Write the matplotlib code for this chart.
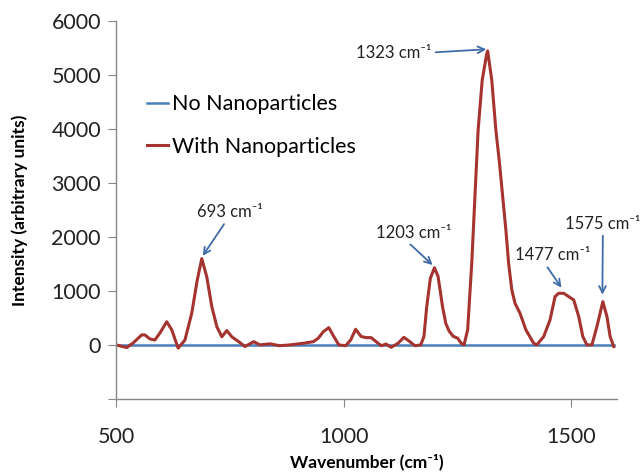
import numpy as np
import matplotlib
matplotlib.use("Agg")
import matplotlib.pyplot as plt

plt.rcParams['font.family'] = ['Lato', 'DejaVu Sans']

# spectrum
wn_with = [500, 523, 537, 556, 563, 574, 585, 596, 611, 622, 636, 651, 666, 678, 688,
           699, 710, 721, 732, 743, 754, 769, 783, 802, 816, 838, 859, 882, 911, 933,
           944, 955, 967, 978, 989, 1004, 1015, 1026, 1038, 1049, 1060, 1071, 1082,
           1093, 1104, 1119, 1132, 1145, 1156, 1169, 1176, 1182, 1190, 1199, 1207,
           1217, 1224, 1231, 1240, 1250, 1258, 1264, 1272, 1281, 1288, 1295, 1304,
           1314, 1316, 1325, 1334, 1342, 1349, 1356, 1362, 1369, 1376, 1387, 1400,
           1417, 1424, 1439, 1453, 1464, 1472, 1483, 1494, 1505, 1516, 1525, 1534,
           1545, 1556, 1569, 1578, 1585, 1593]
int_with = [0, -50, 35, 185, 185, 110, 90, 220, 430, 280, -60, 90, 590, 1200, 1600,
            1260, 710, 340, 150, 265, 150, 60, -30, 60, 0, 20, -15, 0, 30, 60,
            125, 245, 320, 155, 0, -15, 90, 290, 155, 135, 135, 60, -15,
            15, -45, 30, 140, 60, -15, 0, 155, 700, 1230, 1430, 1270,
            700, 400, 260, 160, 125, 30, 0, 278, 1512, 2747, 3982, 4908,
            5401, 5450, 4908, 3982, 3365, 2747, 2130, 1512, 1019, 772, 587, 278,
            31, 0, 154, 463, 895, 957, 957, 895, 833, 525, 154, 0,
            0, 340, 802, 525, 154, -31]

wn_none = [500, 700, 900, 1100, 1300, 1500, 1593]
int_none = [0, 0, 0, 0, 0, 0, 0]

# peak labels: (text, arrow head, text position)
peaks = [("693", (690, 1650), (750, 2460)),
         ("1203", (1195, 1480), (1154, 2080)),
         ("1323", (1313, 5480), (1110, 5420)),
         ("1477", (1478, 1060), (1458, 1660)),
         ("1575", (1568, 930), (1569, 2250))]
peak_relpos = [(0.45, 0.0), (0.4, 0.0), (1.0, 0.5), (0.4, 0.0), (0.5, 0.0)]

blue = '#4A7EBB'
red = '#A5332F'
arrow_c = '#3F6CA6'
grey = '#868686'

fig = plt.figure(figsize=(6.42, 4.72), dpi=100)
ax = fig.add_axes([0.181, 0.155, 0.78, 0.8])

ax.plot(wn_none, int_none, color=blue, lw=1.8, label='No Nanoparticles')
ax.plot(wn_with, int_with, color=red, lw=2.2, label='With Nanoparticles')

for (lab, head, txt), rp in zip(peaks, peak_relpos):
    ax.annotate(lab + ' cm\u207b\u00b9', xy=head, xytext=txt, ha='center', va='center',
                fontsize=12, color='#222222',
                arrowprops=dict(arrowstyle='->', color=arrow_c, lw=1.3,
                                shrinkA=1, shrinkB=0, relpos=rp))

ax.set_xlim(500, 1600)
ax.set_ylim(-1000, 6000)
ax.set_xticks([500, 1000, 1500])
ax.set_yticks(np.arange(-1000, 6001, 1000))
ax.set_yticklabels([''] + [str(v) for v in range(0, 6001, 1000)])

for s in ['top', 'right']:
    ax.spines[s].set_visible(False)
for s in ['left', 'bottom']:
    ax.spines[s].set_color(grey)
    ax.spines[s].set_linewidth(1.0)
ax.tick_params(axis='y', direction='out', length=6, color=grey, labelsize=15.5, pad=5,
               labelcolor='#222222')
ax.tick_params(axis='x', direction='out', length=6, color=grey, labelsize=15.5, pad=14,
               labelcolor='#222222')

ax.set_xlabel('Wavenumber (cm\u207b\u00b9)', fontsize=12.5, fontweight='bold', labelpad=5)
ax.set_ylabel('Intensity (arbitrary units)', fontsize=12.5, fontweight='bold', labelpad=17)

ax.legend(loc='upper left', bbox_to_anchor=(0.045, 0.83), frameon=False, fontsize=15.5,
          handlelength=0.95, handletextpad=0.2, labelspacing=1.05, borderaxespad=0)

fig.savefig('out.png', dpi=100)
